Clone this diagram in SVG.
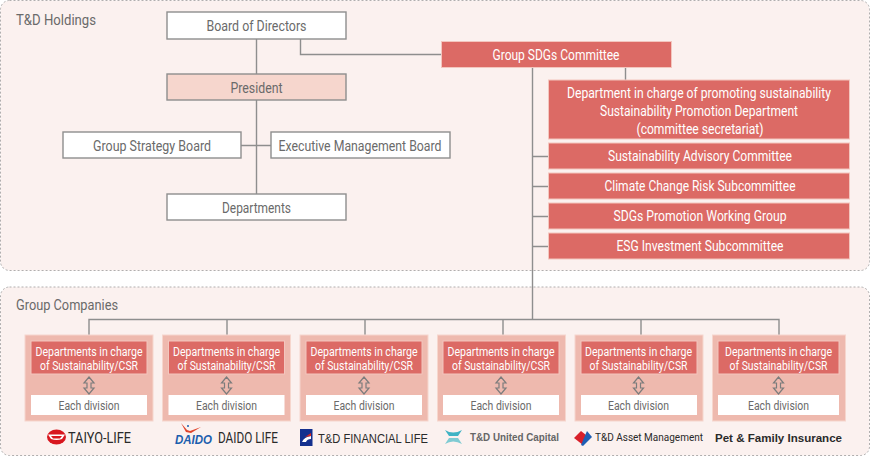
<svg xmlns="http://www.w3.org/2000/svg" width="870" height="456" viewBox="0 0 870 456">
<style>
text{font-family:"Roboto","Liberation Sans",sans-serif;font-size:14px;text-anchor:middle;fill:#6a6a6a}
.panel{fill:#fbf1ef;stroke:#b0aeae;stroke-width:1;stroke-dasharray:2 2}
.wb{fill:#fff;stroke:#8e8e8e;stroke-width:1.4}
.pb{fill:#f6d6cd;stroke:#8e8e8e;stroke-width:1.4}
.rb{fill:#dc6a65;stroke:#f3c6be;stroke-width:1}
.co{fill:#eeb9ae;stroke:#f6d6cd;stroke-width:1}
.dv{fill:#fff}
.w{fill:#fff}
.s{font-size:12.5px}
.lg{fill:#2a2a2a;text-anchor:start}
.cn{fill:none;stroke:#8e8e8e;stroke-width:1.4}
.dbl{fill:none;stroke:#7c7c7c;stroke-width:1.2}
</style>
<defs>
<path id="da" d="M0 377 5 383H2V388H5L0 394-5 388H-2V383H-5Z"/>
</defs>
<g id="holdings">
<rect class="panel" x="0.5" y="0.5" width="869" height="270" rx="9"/>
<text x="16" y="25" style="text-anchor:start" textLength="80" lengthAdjust="spacingAndGlyphs">T&amp;D Holdings</text>
</g>
<g id="companies">
<rect class="panel" x="0.5" y="287" width="869" height="168.5" rx="9"/>
<text x="16" y="310" style="text-anchor:start" textLength="102" lengthAdjust="spacingAndGlyphs">Group Companies</text>
</g>
<g id="connectors">
<path class="cn" d="M256.500 39V194M241 145.500H271M300.500 39V54.500H442M532.500 68V319M625.500 68V80M532.500 156.500H548M532.500 186.500H548M532.500 216.500H548M532.500 246.500H548"/>
<path class="cn" d="M89 335V319.500H779V335M227 319.500V335M365 319.500V335M503 319.500V335M641 319.500V335"/>
</g>
<g id="board"><rect class="wb" x="167" y="12" width="179" height="27"/><text x="256.500" y="31" textLength="100" lengthAdjust="spacingAndGlyphs">Board of Directors</text></g>
<g id="president"><rect class="pb" x="167" y="74" width="179" height="26"/><text x="256.500" y="93" textLength="52" lengthAdjust="spacingAndGlyphs">President</text></g>
<g id="strategy"><rect class="wb" x="63" y="132" width="178" height="26"/><text x="152" y="151" textLength="118" lengthAdjust="spacingAndGlyphs">Group Strategy Board</text></g>
<g id="executive"><rect class="wb" x="271" y="132" width="179" height="26"/><text x="360" y="151" textLength="163" lengthAdjust="spacingAndGlyphs">Executive Management Board</text></g>
<g id="departments"><rect class="wb" x="167" y="194" width="179" height="26"/><text x="256.500" y="213" textLength="69" lengthAdjust="spacingAndGlyphs">Departments</text></g>
<g id="sdgs"><rect class="rb" x="441.500" y="41.500" width="230" height="26"/><text class="w" x="556" y="60" textLength="127" lengthAdjust="spacingAndGlyphs">Group SDGs Committee</text></g>
<g id="secretariat"><rect class="rb" x="548.500" y="80" width="301" height="59"/>
<text class="w" x="699" y="98" textLength="264" lengthAdjust="spacingAndGlyphs">Department in charge of promoting sustainability</text>
<text class="w" x="699" y="116" textLength="198" lengthAdjust="spacingAndGlyphs">Sustainability Promotion Department</text>
<text class="w" x="700" y="134" textLength="127" lengthAdjust="spacingAndGlyphs">(committee secretariat)</text></g>
<g id="advisory"><rect class="rb" x="548.500" y="143" width="301" height="26"/><text class="w" x="700" y="161" textLength="184" lengthAdjust="spacingAndGlyphs">Sustainability Advisory Committee</text></g>
<g id="climate"><rect class="rb" x="548.500" y="173" width="301" height="26"/><text class="w" x="700" y="191" textLength="191" lengthAdjust="spacingAndGlyphs">Climate Change Risk Subcommittee</text></g>
<g id="working"><rect class="rb" x="548.500" y="203" width="301" height="26"/><text class="w" x="700" y="221" textLength="173" lengthAdjust="spacingAndGlyphs">SDGs Promotion Working Group</text></g>
<g id="esg"><rect class="rb" x="548.500" y="233" width="301" height="26"/><text class="w" x="700" y="251" textLength="167" lengthAdjust="spacingAndGlyphs">ESG Investment Subcommittee</text></g>

<g id="co1"><rect class="co" x="25" y="335" width="128" height="86"/><rect class="rb" x="31" y="341" width="116" height="33"/>
<text class="w s" x="89" y="356" textLength="107" lengthAdjust="spacingAndGlyphs">Departments in charge</text><text class="w s" x="89" y="370" textLength="98" lengthAdjust="spacingAndGlyphs">of Sustainability/CSR</text>
<use href="#da" class="dbl" x="89"/><rect class="dv" x="31" y="395" width="116" height="20"/><text class="s" x="89" y="410" textLength="61" lengthAdjust="spacingAndGlyphs">Each division</text></g>
<g id="co2"><rect class="co" x="162.500" y="335" width="128" height="86"/><rect class="rb" x="168.500" y="341" width="116" height="33"/>
<text class="w s" x="226.500" y="356" textLength="107" lengthAdjust="spacingAndGlyphs">Departments in charge</text><text class="w s" x="226.500" y="370" textLength="98" lengthAdjust="spacingAndGlyphs">of Sustainability/CSR</text>
<use href="#da" class="dbl" x="226.500"/><rect class="dv" x="168.500" y="395" width="116" height="20"/><text class="s" x="226.500" y="410" textLength="61" lengthAdjust="spacingAndGlyphs">Each division</text></g>
<g id="co3"><rect class="co" x="300" y="335" width="128" height="86"/><rect class="rb" x="306" y="341" width="116" height="33"/>
<text class="w s" x="364" y="356" textLength="107" lengthAdjust="spacingAndGlyphs">Departments in charge</text><text class="w s" x="364" y="370" textLength="98" lengthAdjust="spacingAndGlyphs">of Sustainability/CSR</text>
<use href="#da" class="dbl" x="364"/><rect class="dv" x="306" y="395" width="116" height="20"/><text class="s" x="364" y="410" textLength="61" lengthAdjust="spacingAndGlyphs">Each division</text></g>
<g id="co4"><rect class="co" x="437.500" y="335" width="128" height="86"/><rect class="rb" x="443" y="341" width="116" height="33"/>
<text class="w s" x="501" y="356" textLength="107" lengthAdjust="spacingAndGlyphs">Departments in charge</text><text class="w s" x="501" y="370" textLength="98" lengthAdjust="spacingAndGlyphs">of Sustainability/CSR</text>
<use href="#da" class="dbl" x="501"/><rect class="dv" x="443" y="395" width="116" height="20"/><text class="s" x="501" y="410" textLength="61" lengthAdjust="spacingAndGlyphs">Each division</text></g>
<g id="co5"><rect class="co" x="575" y="335" width="128" height="86"/><rect class="rb" x="581" y="341" width="116" height="33"/>
<text class="w s" x="638.500" y="356" textLength="107" lengthAdjust="spacingAndGlyphs">Departments in charge</text><text class="w s" x="638.500" y="370" textLength="98" lengthAdjust="spacingAndGlyphs">of Sustainability/CSR</text>
<use href="#da" class="dbl" x="638.500"/><rect class="dv" x="581" y="395" width="116" height="20"/><text class="s" x="638.500" y="410" textLength="61" lengthAdjust="spacingAndGlyphs">Each division</text></g>
<g id="co6"><rect class="co" x="712.500" y="335" width="133" height="86"/><rect class="rb" x="718" y="341" width="121" height="33"/>
<text class="w s" x="778.500" y="356" textLength="107" lengthAdjust="spacingAndGlyphs">Departments in charge</text><text class="w s" x="778.500" y="370" textLength="98" lengthAdjust="spacingAndGlyphs">of Sustainability/CSR</text>
<use href="#da" class="dbl" x="778.500"/><rect class="dv" x="718" y="395" width="121" height="20"/><text class="s" x="778.500" y="410" textLength="61" lengthAdjust="spacingAndGlyphs">Each division</text></g>

<g id="logo-taiyo"><ellipse cx="56.500" cy="437" rx="9.500" ry="7.500" fill="#d8161e"/><path d="M48 434.500H65L62 439Q56.500 441 51 439Z" fill="#fff"/><path d="M51 436H62L60 438.500H53Z" fill="#d8161e"/>
<text class="lg" x="68" y="443" style="font-size:14px" textLength="63" lengthAdjust="spacingAndGlyphs">TAIYO-LIFE</text></g>
<g id="logo-daido"><path d="M181 423 187 430 190 431 201 427 191 433 186 432Z" fill="#e0452c"/><circle cx="188" cy="426" r="1" fill="#1b5fae"/>
<text x="175" y="444" style="text-anchor:start;fill:#1b5fae;font-weight:bold;font-style:italic;font-size:12.500px;font-family:'Liberation Sans',sans-serif" textLength="37" lengthAdjust="spacingAndGlyphs">DAIDO</text>
<text class="lg" x="218" y="443" style="font-size:14px" textLength="60" lengthAdjust="spacingAndGlyphs">DAIDO LIFE</text></g>
<g id="logo-financial"><rect x="300" y="429" width="12.500" height="17" fill="#14308e"/><path d="M302 442Q304 437 311 436V439Q307 439 306 442Z" fill="#fff"/><path d="M305 437 311 433V436Z" fill="#d8261e"/>
<text class="lg" x="318" y="443" style="font-size:13px;font-family:'Liberation Sans',sans-serif" textLength="110" lengthAdjust="spacingAndGlyphs">T&amp;D FINANCIAL LIFE</text></g>
<g id="logo-united"><path d="M445 430Q453 435 462 430L458 436H449Z" fill="#3fb3c4"/><path d="M445 444Q453 439 462 444L458 438H449Z" fill="#7fcbd3"/>
<text class="lg" x="470" y="441" style="font-size:10.500px;font-weight:bold;fill:#666;font-family:'Liberation Sans',sans-serif" textLength="89" lengthAdjust="spacingAndGlyphs">T&amp;D United Capital</text></g>
<g id="logo-asset"><path d="M574 438 581 431 586 435 583 445Z" fill="#d8202a"/><path d="M581 445 587 431 592 437 583 446Z" fill="#1f5fb4"/>
<text class="lg" x="595" y="441" style="font-size:11.500px" textLength="108" lengthAdjust="spacingAndGlyphs">T&amp;D Asset Management</text></g>
<g id="logo-pet"><text class="lg" x="715" y="442" style="font-size:11.500px;font-weight:bold;font-family:'Liberation Sans',sans-serif" textLength="127" lengthAdjust="spacingAndGlyphs">Pet &amp; Family Insurance</text></g>
</svg>
